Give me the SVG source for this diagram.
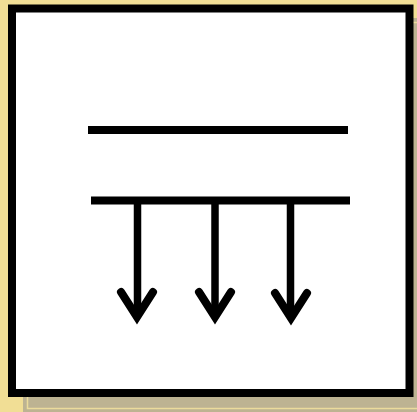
<svg xmlns="http://www.w3.org/2000/svg" width="417" height="412" viewBox="0 0 417 412">
<style>
.bar{stroke:#000;stroke-width:8;fill:none}
.stem{stroke:#000;stroke-width:7.5;fill:none}
.head{stroke:#000;stroke-width:8;fill:none;stroke-linecap:round;stroke-linejoin:miter;stroke-miterlimit:10}
</style>
<rect x="0" y="0" width="417" height="412" fill="#f1de95"/>
<g id="shadow">
<rect x="23" y="18" width="400" height="400" fill="#bdb392"/>
<rect x="27.5" y="22.5" width="400" height="386" fill="none" stroke="#ebdb9c" stroke-width="1.5"/>
</g>
<g id="panel">
<rect x="12" y="8.5" width="397.5" height="384.5" fill="#fff" stroke="#000" stroke-width="8"/>
</g>
<g id="plates">
<line class="bar" x1="88" y1="130" x2="348" y2="130"/>
<line class="bar" x1="91" y1="200.5" x2="350" y2="200.5"/>
</g>
<g id="connectors">
<line class="stem" x1="137.5" y1="204" x2="137.5" y2="316"/>
<line class="stem" x1="215" y1="204" x2="215" y2="316"/>
<line class="stem" x1="290.5" y1="204" x2="290.5" y2="317"/>
<polyline class="head" points="121,292 137,317 153,292"/>
<polyline class="head" points="199,292 215,317 231,292"/>
<polyline class="head" points="275,293 291,318 307,293"/>
</g>
</svg>
